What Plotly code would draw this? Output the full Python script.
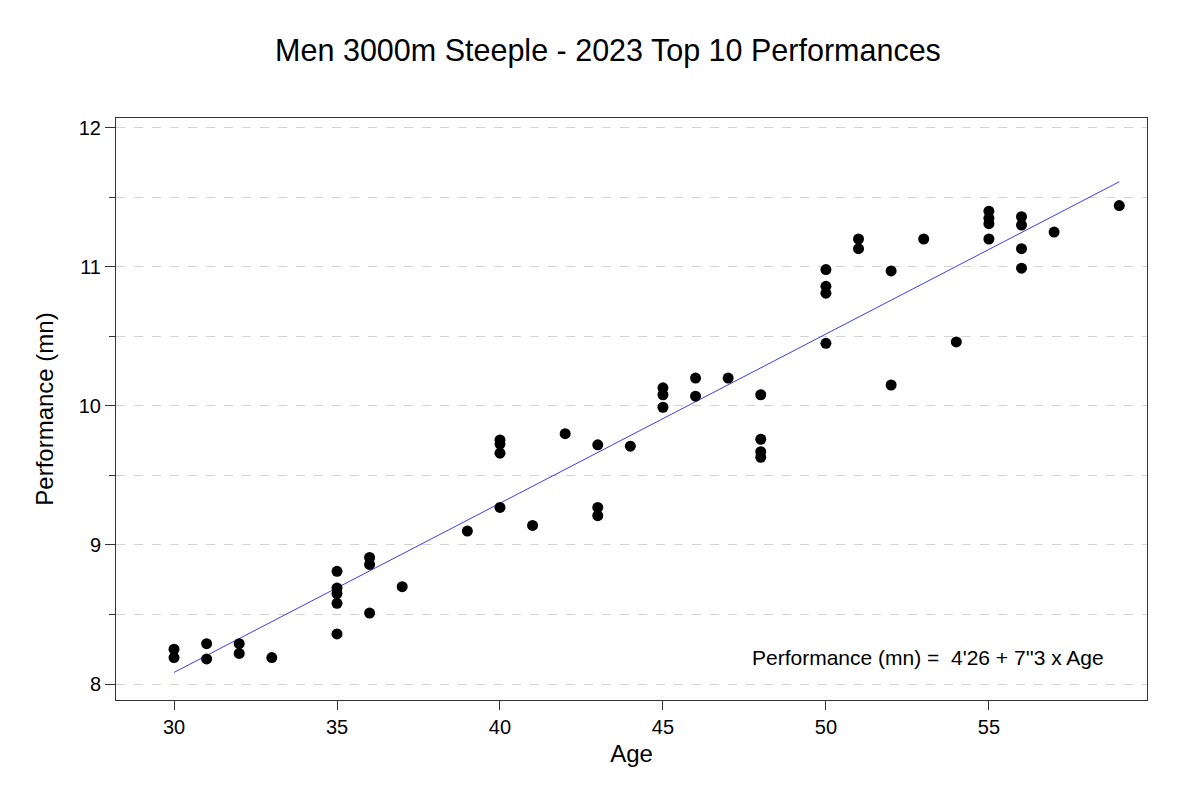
import plotly.graph_objects as go

ages = [30, 30, 31, 31, 32, 32, 33,
        35, 35, 35, 35, 35, 36, 36, 36, 37,
        39, 40, 40, 40, 40, 41, 42, 43, 43, 43, 44,
        45, 45, 45, 46, 46, 47, 48, 48, 48, 48,
        50, 50, 50, 50, 51, 51, 52, 52, 53, 54,
        55, 55, 55, 55, 56, 56, 56, 56, 57, 59]
perf = [8.25, 8.19, 8.29, 8.18, 8.29, 8.22, 8.19,
        8.81, 8.69, 8.65, 8.58, 8.36, 8.91, 8.86, 8.51, 8.70,
        9.10, 9.755, 9.725, 9.66, 9.27, 9.14, 9.80, 9.72, 9.27, 9.21, 9.71,
        10.13, 10.08, 9.99, 10.20, 10.07, 10.20, 10.08, 9.76, 9.67, 9.63,
        10.98, 10.86, 10.81, 10.45, 11.20, 11.13, 10.97, 10.15, 11.20, 10.46,
        11.40, 11.35, 11.31, 11.20, 11.36, 11.30, 11.13, 10.99, 11.25, 11.44]

intercept_min = 4 + 26 / 60
slope_min = 7.3 / 60
fit_x = [min(ages), max(ages)]
fit_y = [intercept_min + slope_min * a for a in fit_x]

x_tickvals = [30, 35, 40, 45, 50, 55]
y_tickvals = [8, 9, 10, 11, 12]

font = "Liberation Sans, Arial, sans-serif"

fig = go.Figure()
fig.add_trace(go.Scatter(x=fit_x, y=fit_y, mode="lines",
                         line=dict(color="#3b3bff", width=1), showlegend=False,
                         hoverinfo="skip"))
fig.add_trace(go.Scatter(x=ages, y=perf, mode="markers",
                         marker=dict(color="black", size=11), showlegend=False))

fig.add_annotation(x=58.6, y=8.19, xanchor="right", yanchor="middle",
                   text="Performance (mn) =  4'26 + 7''3 x Age", showarrow=False,
                   font=dict(size=21, color="black", family=font))

fig.update_layout(
    width=1200, height=797,
    paper_bgcolor="white", plot_bgcolor="white",
    margin=dict(l=108, r=61, t=110, b=105),
    title=dict(text="Men 3000m Steeple - 2023 Top 10 Performances",
               x=0.5, xanchor="center", y=0.947, yanchor="middle",
               font=dict(size=30.5, color="black", family=font)),
    font=dict(family=font, color="black"),
)
fig.update_xaxes(range=[28.22, 59.85], tickvals=x_tickvals,
                 showgrid=False, zeroline=False,
                 showline=True, linecolor="#333333", linewidth=1, mirror=True,
                 ticks="outside", ticklen=9, tickcolor="#333333",
                 tickfont=dict(size=20),
                 title=dict(text="Age", font=dict(size=24), standoff=8))
fig.update_yaxes(range=[7.885, 12.07], tickvals=y_tickvals,
                 showgrid=True, gridcolor="#d3d3d3", griddash="dash", gridwidth=1,
                 zeroline=False,
                 showline=True, linecolor="#333333", linewidth=1, mirror=True,
                 ticks="outside", ticklen=10, tickcolor="#333333",
                 tickfont=dict(size=20),
                 minor=dict(dtick=0.5, tick0=8, ticks="outside", ticklen=6,
                            tickcolor="#333333", showgrid=True,
                            gridcolor="#d3d3d3", griddash="dash", gridwidth=1),
                 title=dict(text="Performance (mn)", font=dict(size=24), standoff=18))

fig.write_html("out.html")
